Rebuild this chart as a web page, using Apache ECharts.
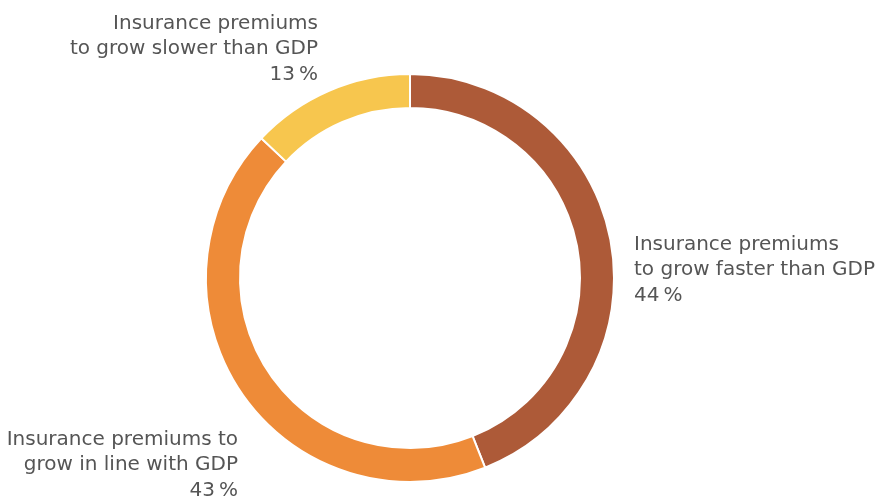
<!DOCTYPE html>
<html>
<head>
<meta charset="utf-8">
<script src="https://cdn.jsdelivr.net/npm/echarts@6/dist/echarts.min.js"></script>
<style>html,body{margin:0;padding:0;background:#fff}#c{width:875px;height:500px}</style>
</head>
<body>
<div id="c"></div>
<script>
var categories = [
  "Insurance premiums\nto grow faster than GDP",
  "Insurance premiums to\ngrow in line with GDP",
  "Insurance premiums\nto grow slower than GDP"
];
var values = [44, 43, 13];
var colors = ["#AD5A38", "#EE8B38", "#F7C64E"];

var labelPos = [
  {x: 634, y: 232, align: 'left'},
  {x: 238, y: 427, align: 'right'},
  {x: 318, y: 11, align: 'right'}
];

var chart = echarts.init(document.getElementById('c'), null, {renderer: 'canvas'});
chart.setOption({
  animation: false,
  series: [{
    type: 'pie',
    center: [410, 278],
    radius: [170, 204],
    startAngle: 90,
    clockwise: true,
    itemStyle: {borderColor: '#fff', borderWidth: 2},
    label: {
      show: true,
      position: 'outside',
      overflow: 'none',
      width: 400,
      formatter: function (p) { return p.name + '\n' + p.value + '\u2009%'; },
      color: '#555',
      fontFamily: 'DejaVu Sans, sans-serif',
      fontSize: 20,
      lineHeight: 25.5
    },
    labelLine: {show: false},
    labelLayout: function (p) {
      var lp = labelPos[p.dataIndex];
      return {x: lp.x, y: lp.y, align: lp.align, verticalAlign: 'top'};
    },
    data: categories.map(function (c, i) {
      return {name: c, value: values[i], itemStyle: {color: colors[i]}};
    })
  }]
});
</script>
</body>
</html>
